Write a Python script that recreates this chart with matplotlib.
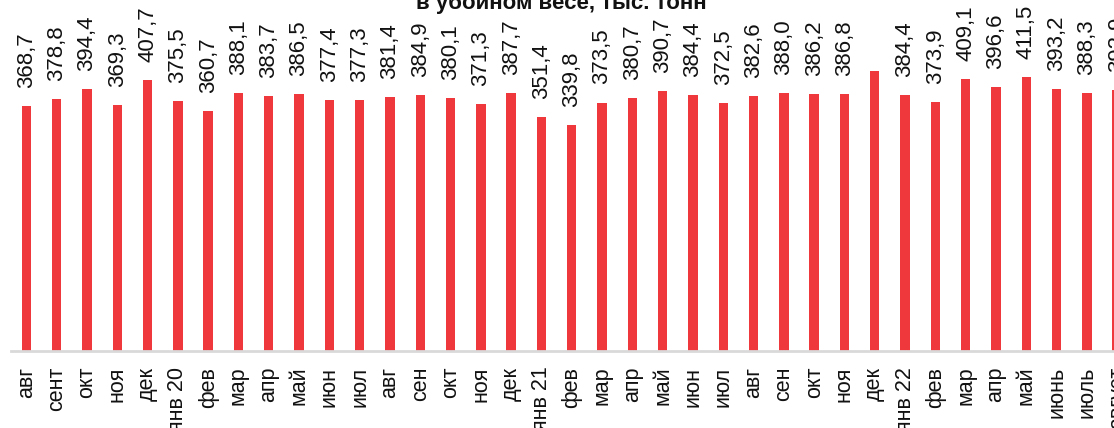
import matplotlib
matplotlib.use("Agg")
import matplotlib.pyplot as plt

months = ["авг", "сент", "окт", "ноя", "дек", "янв 20", "фев", "мар", "апр", "май",
          "июн", "июл", "авг", "сен", "окт", "ноя", "дек", "янв 21", "фев", "мар",
          "апр", "май", "июн", "июл", "авг", "сен", "окт", "ноя", "дек", "янв 22",
          "фев", "мар", "апр", "май", "июнь", "июль", "август"]
values = [368.7, 378.8, 394.4, 369.3, 407.7, 375.5, 360.7, 388.1, 383.7, 386.5,
          377.4, 377.3, 381.4, 384.9, 380.1, 371.3, 387.7, 351.4, 339.8, 373.5,
          380.7, 390.7, 384.4, 372.5, 382.6, 388.0, 386.2, 386.8, 421.4, 384.4,
          373.9, 409.1, 396.6, 411.5, 393.2, 388.3, 392.9]
value_labels = ["368,7", "378,8", "394,4", "369,3", "407,7", "375,5", "360,7", "388,1",
                "383,7", "386,5", "377,4", "377,3", "381,4", "384,9", "380,1", "371,3",
                "387,7", "351,4", "339,8", "373,5", "380,7", "390,7", "384,4", "372,5",
                "382,6", "388,0", "386,2", "386,8", "", "384,4", "373,9", "409,1",
                "396,6", "411,5", "393,2", "388,3", "392,9"]
title = "в убойном весе, тыс. тонн"

plt.rcParams['font.family'] = ['Liberation Sans', 'DejaVu Sans']

W, H = 1114, 428
fig = plt.figure(figsize=(W / 100, H / 100), dpi=100)
left_px, right_px = 11.2, 1132.3
bottom_px = 350.7
ymax = 500
height_px = 0.6645 * ymax
ax = fig.add_axes([left_px / W, 1 - bottom_px / H, (right_px - left_px) / W, height_px / H])

x = list(range(len(values)))
bars = ax.bar(x, values, width=0.31, color="#ee383c", zorder=2)
ax.set_xlim(-0.5, len(values) - 0.5)
ax.set_ylim(0, ymax)

for xi, v, lab in zip(x, values, value_labels):
    if lab:
        ax.annotate(lab, (xi, v), xytext=(0, 13), textcoords="offset points",
                    rotation=90, ha="center", va="bottom", fontsize=16, color="#111111")

for s in ["top", "right", "left"]:
    ax.spines[s].set_visible(False)
ax.spines["bottom"].set_color("#d9d9d9")
ax.spines["bottom"].set_linewidth(2)
ax.set_yticks([])
ax.set_xticks(x)
ax.set_xticklabels(months, rotation=90, fontsize=15.5, color="#111111")
ax.tick_params(axis="x", length=0, pad=11.5)

fig.text(0.504, 1 - 9 / H, title, ha="center", va="baseline", fontsize=16,
         fontweight="bold", color="#111111")

fig.savefig("out.png", dpi=100)
